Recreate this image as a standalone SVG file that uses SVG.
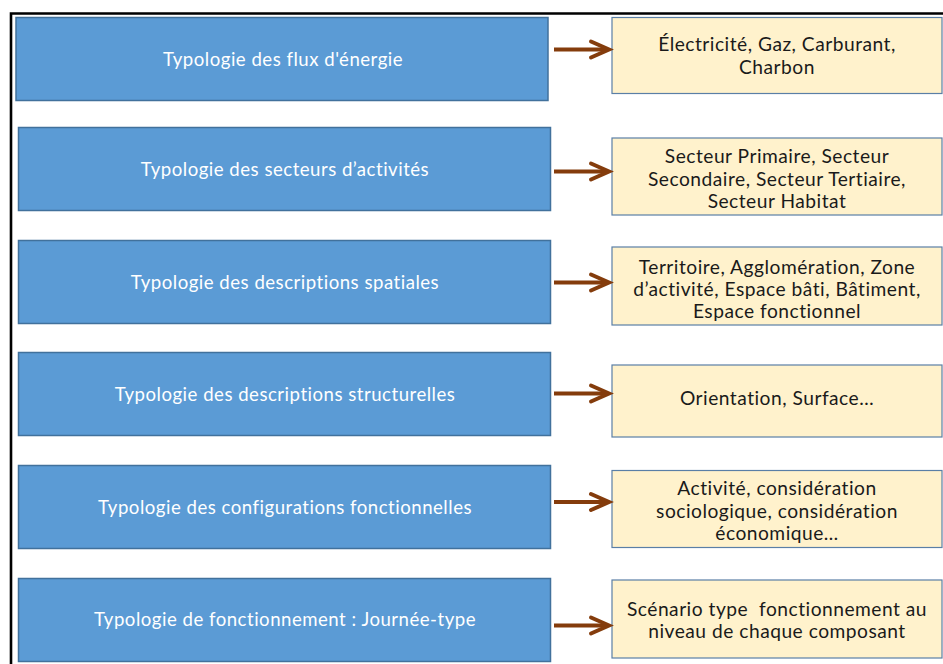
<svg xmlns="http://www.w3.org/2000/svg" width="943" height="664" viewBox="0 0 943 664">
<style>
.blue{fill:#5b9bd5;stroke:#41719c;stroke-width:1.5}
.beige{fill:#fff2cc;stroke:#5a7fa6;stroke-width:1.2}
.bt{font-family:Lato,"Liberation Sans",sans-serif;font-size:18.6px;letter-spacing:0.5px;fill:#ffffff;text-anchor:middle}
.yt{font-family:Lato,"Liberation Sans",sans-serif;font-size:19.2px;letter-spacing:0.5px;fill:#1a1a1a;text-anchor:middle}
.arr{stroke:#843c0c;stroke-width:4.2;fill:none;stroke-linecap:butt}
.head{stroke:#843c0c;stroke-width:4;fill:none;stroke-linejoin:miter;stroke-linecap:round}
</style>
<rect width="943" height="664" fill="#ffffff"/>
<path d="M11,664 V13.5 H943" fill="none" stroke="#000000" stroke-width="2.6"/>
<g id="n1"><rect class="blue" x="16" y="17.5" width="532" height="83"/><text class="bt" x="283" y="66">Typologie des flux d'énergie</text></g>
<g id="n2"><rect class="blue" x="18.5" y="127.5" width="532" height="83"/><text class="bt" x="285" y="176">Typologie des secteurs d’activités</text></g>
<g id="n3"><rect class="blue" x="18.5" y="240.5" width="532" height="83"/><text class="bt" x="285" y="289">Typologie des descriptions spatiales</text></g>
<g id="n4"><rect class="blue" x="18.5" y="352.5" width="532" height="83"/><text class="bt" x="285" y="401">Typologie des descriptions structurelles</text></g>
<g id="n5"><rect class="blue" x="18.5" y="465.5" width="532" height="83"/><text class="bt" x="285" y="514">Typologie des configurations fonctionnelles</text></g>
<g id="n6"><rect class="blue" x="18.5" y="578.5" width="532" height="83"/><text class="bt" x="285" y="626">Typologie de fonctionnement : Journée-type</text></g>
<g id="d1"><rect class="beige" x="612" y="17.5" width="330" height="76"/><text class="yt" x="777" y="51">Électricité, Gaz, Carburant,</text><text class="yt" x="777" y="74">Charbon</text></g>
<g id="d2"><rect class="beige" x="612" y="138" width="330" height="77"/><text class="yt" x="777" y="163">Secteur Primaire, Secteur</text><text class="yt" x="777" y="186">Secondaire, Secteur Tertiaire,</text><text class="yt" x="777" y="208">Secteur Habitat</text></g>
<g id="d3"><rect class="beige" x="612" y="247" width="330" height="78"/><text class="yt" x="777" y="274">Territoire, Agglomération, Zone</text><text class="yt" x="777" y="296">d’activité, Espace bâti, Bâtiment,</text><text class="yt" x="777" y="318">Espace fonctionnel</text></g>
<g id="d4"><rect class="beige" x="612" y="365" width="330" height="72"/><text class="yt" x="777" y="405">Orientation, Surface…</text></g>
<g id="d5"><rect class="beige" x="612" y="470.5" width="330" height="77"/><text class="yt" x="777" y="495">Activité, considération</text><text class="yt" x="777" y="518">sociologique, considération</text><text class="yt" x="777" y="540">économique…</text></g>
<g id="d6"><rect class="beige" x="612" y="580" width="330" height="78"/><text class="yt" x="777" y="616" xml:space="preserve">Scénario type  fonctionnement au</text><text class="yt" x="777" y="638">niveau de chaque composant</text></g>
<g id="connectors">
<path class="arr" d="M554,49.5 H607"/><path class="head" d="M591,41.5 L609,49.5 L591,57.5"/>
<path class="arr" d="M554,171.5 H607"/><path class="head" d="M591,163.5 L609,171.5 L591,179.5"/>
<path class="arr" d="M554,282.5 H607"/><path class="head" d="M591,274.5 L609,282.5 L591,290.5"/>
<path class="arr" d="M554,393.5 H607"/><path class="head" d="M591,385.5 L609,393.5 L591,401.5"/>
<path class="arr" d="M554,502 H607"/><path class="head" d="M591,494 L609,502 L591,510"/>
<path class="arr" d="M554,625.5 H607"/><path class="head" d="M591,617.5 L609,625.5 L591,633.5"/>
</g>
</svg>
